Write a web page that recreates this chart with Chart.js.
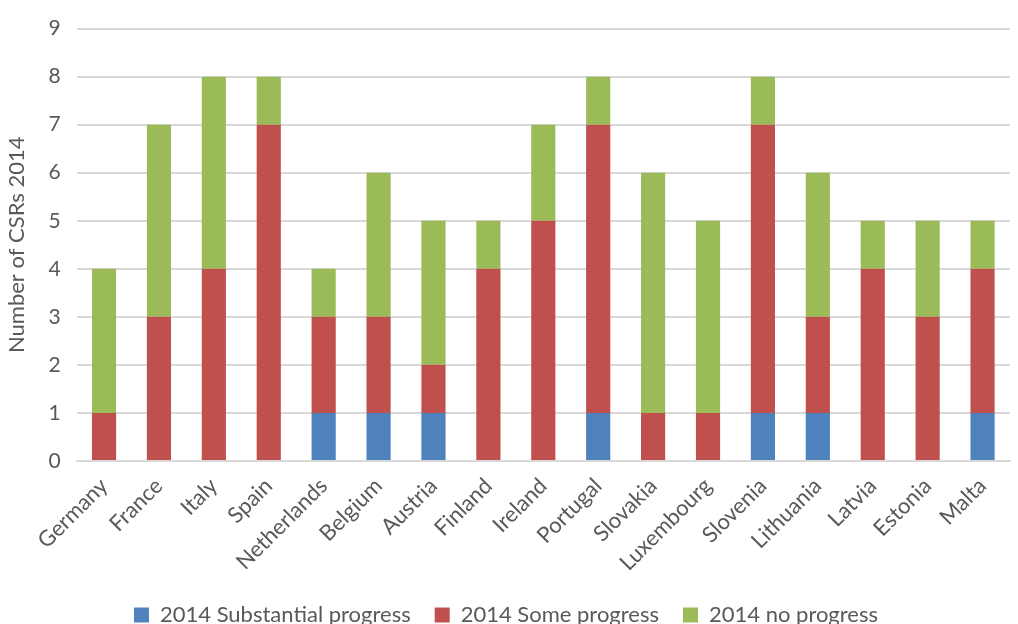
<!DOCTYPE html>
<html>
<head>
<meta charset="utf-8">
<script src="https://cdn.jsdelivr.net/npm/chart.js@4"></script>
<style>
  html, body { margin: 0; padding: 0; background: #fff; }
  #wrap { width: 1018px; height: 624px; }
</style>
</head>
<body>
<div id="wrap"><canvas id="myBarChart"></canvas></div>
<script>
  var countries = ['Germany', 'France', 'Italy', 'Spain', 'Netherlands', 'Belgium', 'Austria', 'Finland',
      'Ireland', 'Portugal', 'Slovakia', 'Luxembourg', 'Slovenia', 'Lithuania', 'Latvia', 'Estonia', 'Malta'];
  var substantial = [0, 0, 0, 0, 1, 1, 1, 0, 0, 1, 0, 0, 1, 1, 0, 0, 1];
  var some = [1, 3, 4, 7, 2, 2, 1, 4, 5, 6, 1, 1, 6, 2, 4, 3, 3];
  var none = [3, 4, 4, 1, 1, 3, 3, 1, 2, 1, 5, 4, 1, 3, 1, 2, 1];

  Chart.defaults.font.family = 'Lato, "Open Sans", sans-serif';
  Chart.defaults.color = '#595959';

  var ctxBar = document.getElementById('myBarChart').getContext('2d');
  var barChart = new Chart(ctxBar, {
      type: 'bar',
      data: {
          labels: countries,
          datasets: [
              { label: '2014 Substantial progress', data: substantial, backgroundColor: '#4F81BD' },
              { label: '2014 Some progress', data: some, backgroundColor: '#C0504D' },
              { label: '2014 no progress', data: none, backgroundColor: '#9BBB59' }
          ]
      },
      options: {
          responsive: true,
          maintainAspectRatio: false,
          animation: false,
          layout: { padding: { left: 2, right: 8, top: -3, bottom: -12 } },
          datasets: { bar: { categoryPercentage: 1, barPercentage: 0.44 } },
          plugins: {
              tooltip: { enabled: false },
              legend: {
                  position: 'bottom',
                  labels: { boxWidth: 15, boxHeight: 15, font: { size: 22 }, padding: 24 }
              }
          },
          scales: {
              x: {
                  stacked: true,
                  grid: { display: false },
                  border: { color: '#D9D9D9', width: 2 },
                  ticks: { maxRotation: 45, minRotation: 45, font: { size: 22 }, padding: 4 }
              },
              y: {
                  stacked: true,
                  min: 0,
                  max: 9,
                  ticks: { stepSize: 1, font: { size: 21 }, padding: 16 },
                  grid: { color: '#D9D9D9', lineWidth: 2, drawTicks: false },
                  border: { display: false },
                  title: { display: true, text: 'Number of CSRs 2014', font: { size: 22 }, padding: 2 }
              }
          }
      }
  });
</script>
</body>
</html>
